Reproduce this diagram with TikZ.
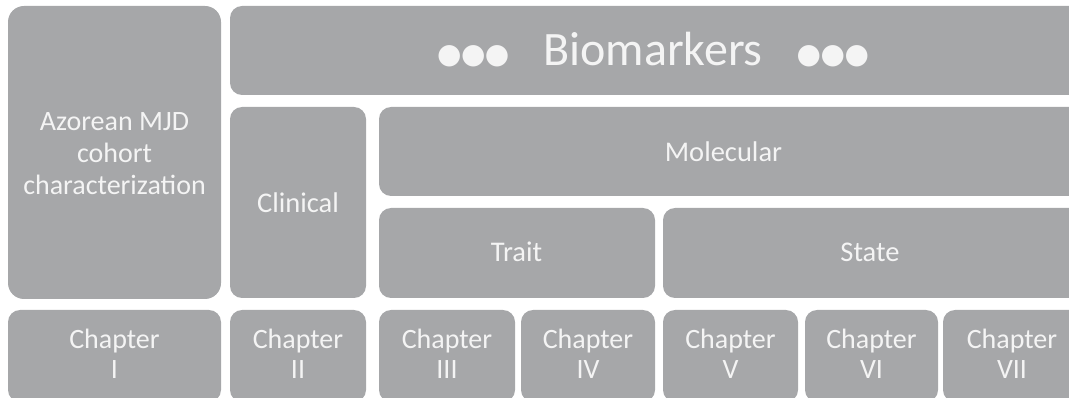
\documentclass[tikz,border=0pt]{standalone}
\usepackage{fontspec}
\setmainfont{Carlito}
\newfontfamily\symfont{DejaVu Sans}
\definecolor{boxgrey}{HTML}{A6A7A9}
\definecolor{txt}{HTML}{F4F4F4}
\newcommand{\threedots}{{\symfont\fontsize{28}{28}\selectfont\raisebox{2pt}{●\kern-0.5pt●\kern-0.5pt●}}}
\begin{document}
\begin{tikzpicture}[x=1pt,y=-1pt,
  blk/.style={fill=boxgrey, draw=none, rounded corners=12pt, inner sep=0pt},
  lbl/.style={text=txt, font=\fontsize{28.5}{31}\selectfont, align=center, inner sep=0pt},
  chap/.style={text=txt, font=\fontsize{28}{30}\selectfont, align=center, inner sep=0pt}]
\useasboundingbox (0,0) rectangle (1069,398);
% boxes
\node[blk, rounded corners=16pt, minimum width=213pt, minimum height=293pt] (azo) at (114.5,152.5) {};
\node[blk, minimum width=860pt, minimum height=89pt] (bio) at (660,50.5) {};
\node[blk, minimum width=136pt, minimum height=191pt] (cli) at (298,202.5) {};
\node[blk, minimum width=711pt, minimum height=89pt] (mol) at (734.5,151.5) {};
\node[blk, minimum width=276pt, minimum height=90pt] (tra) at (517,253) {};
\node[blk, minimum width=427pt, minimum height=90pt] (sta) at (876.5,253) {};
\node[blk, minimum width=213pt, minimum height=92pt] (c1) at (114.5,356) {};
\node[blk, minimum width=136pt, minimum height=92pt] (c2) at (298,356) {};
\node[blk, minimum width=136pt, minimum height=92pt] (c3) at (447,356) {};
\node[blk, minimum width=134pt, minimum height=92pt] (c4) at (588,356) {};
\node[blk, minimum width=135pt, minimum height=92pt] (c5) at (730.5,356) {};
\node[blk, minimum width=133pt, minimum height=92pt] (c6) at (871.5,356) {};
\node[blk, minimum width=147pt, minimum height=92pt] (c7) at (1016.5,356) {};
% texts
\node[lbl, font=\fontsize{28}{32}\selectfont] (tazo) at (114.5,154) {Azorean MJD\\cohort\\characterization};
\node[text=txt, inner sep=0pt, font=\fontsize{48}{50}\selectfont] (tbio) at (653,50)
  {\threedots\hspace{34pt}Biomarkers\hspace{34pt}\threedots};
\node[lbl] (tcli) at (298,202.5) {Clinical};
\node[lbl] (tmol) at (723.5,152) {Molecular};
\node[lbl] (ttra) at (516.5,252) {Trait};
\node[lbl] (tsta) at (870,252) {State};
\node[chap] (tc1) at (114.5,354) {Chapter\\I};
\node[chap] (tc2) at (298,354) {Chapter\\II};
\node[chap] (tc3) at (447,354) {Chapter\\III};
\node[chap] (tc4) at (588,354) {Chapter\\IV};
\node[chap] (tc5) at (730.5,354) {Chapter\\V};
\node[chap] (tc6) at (871.5,354) {Chapter\\VI};
\node[chap] (tc7) at (1012,354) {Chapter\\VII};
\end{tikzpicture}
\end{document}
